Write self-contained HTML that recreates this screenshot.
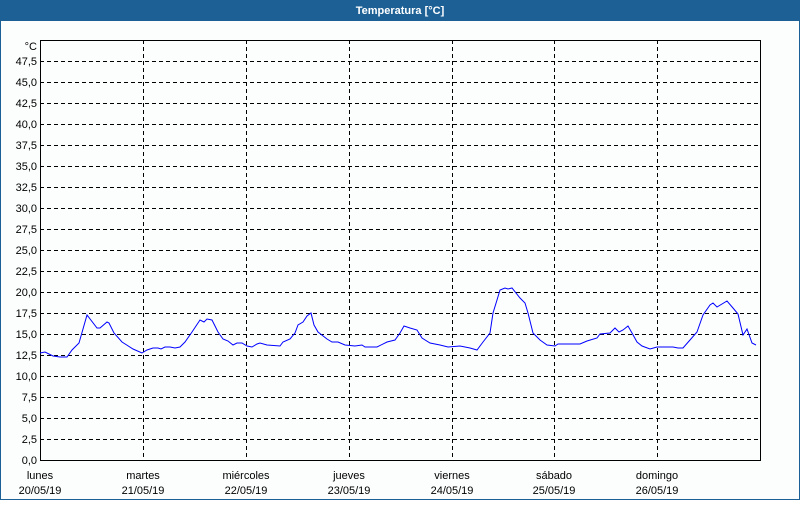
<!DOCTYPE html>
<html><head><meta charset="utf-8"><style>
body{margin:0;width:800px;height:500px;overflow:hidden;background:#fff;font-family:"Liberation Sans","DejaVu Sans",sans-serif}
</style></head><body>
<svg width="800" height="500" xmlns="http://www.w3.org/2000/svg" font-family="Liberation Sans, DejaVu Sans, sans-serif" font-size="11">
<rect x="0" y="0" width="800" height="500" fill="#fcfefd"/>
<rect x="0" y="0" width="800" height="21" fill="#1c6096"/>
<rect x="0.5" y="20" width="799" height="479.5" fill="none" stroke="#1c6096" stroke-width="1"/>
<text x="400" y="14" text-anchor="middle" fill="#fff" font-weight="bold">Temperatura [°C]</text>
<g stroke="#000" stroke-width="1" stroke-dasharray="4,3" fill="none">
<path d="M40 61.5H760M40 82.5H760M40 103.5H760M40 124.5H760M40 145.5H760M40 166.5H760M40 187.5H760M40 208.5H760M40 229.5H760M40 250.5H760M40 271.5H760M40 292.5H760M40 313.5H760M40 334.5H760M40 355.5H760M40 376.5H760M40 397.5H760M40 418.5H760M40 439.5H760"/>
<path d="M143.5 40V460M246.5 40V460M349.5 40V460M452.5 40V460M554.5 40V460M657.5 40V460"/>
</g>
<rect x="40.5" y="40.5" width="720" height="420" fill="none" stroke="#000" stroke-width="1"/>
<g fill="#000" text-anchor="end">
<text x="37" y="50">°C</text>
<text x="37" y="65">47,5</text><text x="37" y="86">45,0</text><text x="37" y="107">42,5</text><text x="37" y="128">40,0</text>
<text x="37" y="149">37,5</text><text x="37" y="170">35,0</text><text x="37" y="191">32,5</text><text x="37" y="212">30,0</text>
<text x="37" y="233">27,5</text><text x="37" y="254">25,0</text><text x="37" y="275">22,5</text><text x="37" y="296">20,0</text>
<text x="37" y="317">17,5</text><text x="37" y="338">15,0</text><text x="37" y="359">12,5</text><text x="37" y="380">10,0</text>
<text x="37" y="401">7,5</text><text x="37" y="422">5,0</text><text x="37" y="443">2,5</text><text x="37" y="464">0,0</text>
</g>
<g fill="#000" text-anchor="middle">
<text x="40" y="479">lunes</text><text x="40" y="494">20/05/19</text>
<text x="143" y="479">martes</text><text x="143" y="494">21/05/19</text>
<text x="246" y="479">miércoles</text><text x="246" y="494">22/05/19</text>
<text x="349" y="479">jueves</text><text x="349" y="494">23/05/19</text>
<text x="452" y="479">viernes</text><text x="452" y="494">24/05/19</text>
<text x="554" y="479">sábado</text><text x="554" y="494">25/05/19</text>
<text x="657" y="479">domingo</text><text x="657" y="494">26/05/19</text>
</g>
<polyline fill="none" stroke="#0000ff" stroke-width="1" points="40,353 45,352 53,356 60,357 67,357 72,350 79,343 87,315 97,328 100,328 107,322 109,323 114,333 122,342 133,349 142,353 147,350 153,348 158,348 161,349 165,347 170,347 175,348 180,347 185,342 192,332 200,320 204,322 207,319 212,320 218,332 223,339 228,341 233,345 237,343 242,343 247,346 252,347 257,344 260,343 267,345 280,346 283,342 290,339 295,333 298,325 303,322 307,316 311,313 314,325 318,332 327,339 332,342 338,342 345,345 355,346 362,345 365,347 377,347 387,342 395,340 400,333 404,326 410,328 417,330 422,338 430,343 440,345 448,347 460,346 470,348 477,350 483,342 490,333 493,313 497,300 500,290 505,288 508,289 512,288 520,298 525,303 528,313 533,333 540,340 547,345 555,346 558,344 580,344 587,341 597,338 600,334 610,333 615,328 619,332 623,330 628,326 632,333 637,342 642,346 650,349 657,347 667,347 673,347 678,348 683,348 690,340 697,332 703,315 710,305 713,303 717,307 727,301 733,308 738,314 743,335 747,329 752,343 756,345"/>
</svg>
</body></html>
